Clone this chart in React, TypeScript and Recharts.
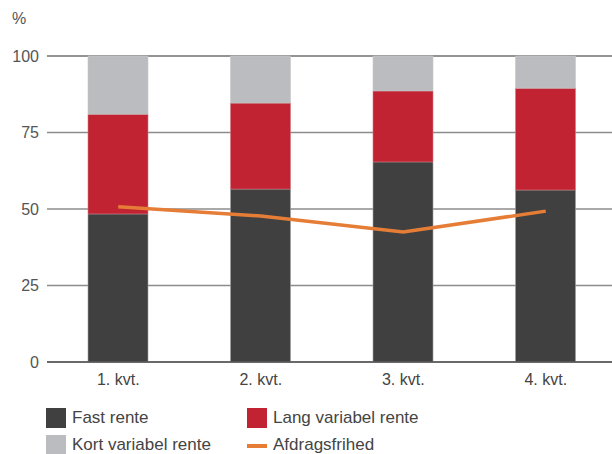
import React from 'react'
import { Bar, CartesianGrid, ComposedChart, Line, XAxis, YAxis } from 'recharts'

// Values, percent
const quarters = ['1. kvt.', '2. kvt.', '3. kvt.', '4. kvt.']
const fastRente = [48.4, 56.5, 65.4, 56.2]
const langVariabel = [32.6, 28.1, 23.2, 33.3]
const kortVariabel = [19.0, 15.4, 11.4, 10.5]
const afdragsfrihed = [50.7, 47.7, 42.5, 49.3]
const yTicks = [0, 25, 50, 75, 100]

const COLORS = {
  fast: '#404041',
  lang: '#c12332',
  kort: '#bbbcbf',
  afdrag: '#e67d36',
  grid: '#8c8c8c',
  text: '#555555',
}

const data = quarters.map((q, i) => ({
  q,
  fast: fastRente[i],
  lang: langVariabel[i],
  kort: kortVariabel[i],
  afdrag: afdragsfrihed[i],
}))

const font = '"Liberation Sans", Arial, sans-serif'

function Swatch({ color, line }: { color: string; line?: boolean }) {
  if (line) {
    return (
      <span style={{ display: 'inline-block', width: 20, height: 20, position: 'relative' }}>
        <span style={{ position: 'absolute', left: 0, right: 0, top: 9, height: 4, background: color }} />
      </span>
    )
  }
  return <span style={{ display: 'inline-block', width: 20, height: 20, background: color }} />
}

function LegendItem({ x, y, color, label, line }: { x: number; y: number; color: string; label: string; line?: boolean }) {
  return (
    <div style={{ position: 'absolute', left: x, top: y, display: 'flex', alignItems: 'center', gap: 6, fontSize: 17, color: '#444' }}>
      <Swatch color={color} line={line} />
      <span>{label}</span>
    </div>
  )
}

export default function App() {
  return (
    <div style={{ position: 'fixed', left: 0, top: 0, width: 612, height: 454, overflow: 'hidden', fontFamily: font, background: '#fff' }}>
      <div style={{ position: 'absolute', left: 12, top: 10, fontSize: 16, color: COLORS.text }}>%</div>
      <ComposedChart
        width={612}
        height={454}
        data={data}
        margin={{ top: 56, right: 0, bottom: 62, left: 0 }}
        barCategoryGap={0}
      >
        <CartesianGrid vertical={false} stroke={COLORS.grid} strokeWidth={1.5} />
        <XAxis
          dataKey="q"
          height={30}
          padding={{ left: 0, right: -5 }}
          tickLine={false}
          axisLine={{ stroke: '#555', strokeWidth: 1.5 }}
          tickMargin={6}
          tick={{ fontSize: 16, fill: '#444', fontFamily: font }}
        />
        <YAxis
          width={47}
          domain={[0, 100]}
          ticks={yTicks}
          tickLine={false}
          axisLine={false}
          tick={{ fontSize: 16, fill: COLORS.text, fontFamily: font }}
        />
        <Bar dataKey="fast" stackId="a" fill={COLORS.fast} barSize={60} stroke="#a0a0a0" strokeWidth={0.6} isAnimationActive={false} />
        <Bar dataKey="lang" stackId="a" fill={COLORS.lang} barSize={60} stroke="#d07a80" strokeWidth={0.6} isAnimationActive={false} />
        <Bar dataKey="kort" stackId="a" fill={COLORS.kort} barSize={60} stroke="#c8c8c8" strokeWidth={0.6} isAnimationActive={false} />
        <Line
          dataKey="afdrag"
          type="linear"
          stroke={COLORS.afdrag}
          strokeWidth={3.5}
          dot={false}
          activeDot={false}
          isAnimationActive={false}
        />
      </ComposedChart>
      <LegendItem x={46} y={408} color={COLORS.fast} label="Fast rente" />
      <LegendItem x={247} y={408} color={COLORS.lang} label="Lang variabel rente" />
      <LegendItem x={46} y={435} color={COLORS.kort} label="Kort variabel rente" />
      <LegendItem x={247} y={435} color={COLORS.afdrag} label="Afdragsfrihed" line />
    </div>
  )
}
